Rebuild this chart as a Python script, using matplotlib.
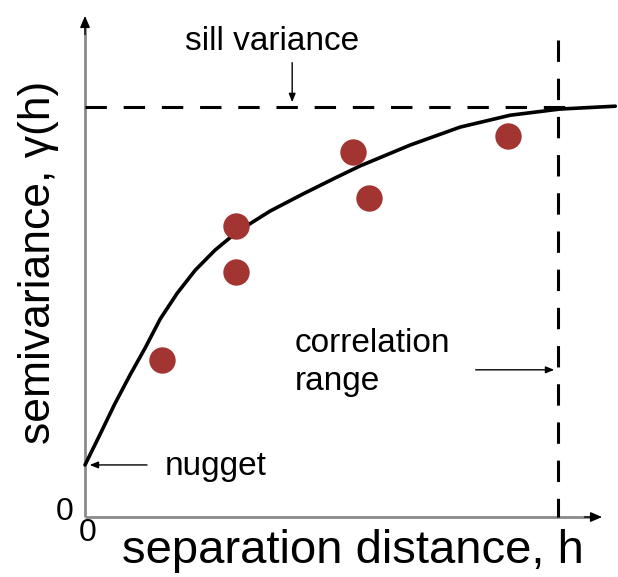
import matplotlib
matplotlib.use('Agg')
import matplotlib.pyplot as plt

plt.rcParams['font.family'] = ['Liberation Sans', 'DejaVu Sans']

# observed semivariance points (separation distance, semivariance)
obs_h = [1.63, 3.19, 3.19, 5.67, 6.00, 8.94]
obs_g = [3.83, 7.10, 5.98, 8.90, 7.78, 9.29]

# fitted model curve
model_h = [0.00, 0.32, 0.63, 0.95, 1.27, 1.59, 1.95, 2.33, 2.75, 3.21,
           3.91, 4.61, 5.29, 5.81, 6.87, 7.93, 8.99, 10.04, 11.21]
model_g = [1.27, 2.02, 2.76, 3.46, 4.12, 4.83, 5.46, 6.02, 6.51, 6.95,
           7.46, 7.88, 8.27, 8.56, 9.07, 9.51, 9.80, 9.95, 10.02]

nugget = 1.27
sill = 10.0
corr_range = 10.0

fig = plt.figure(figsize=(6.18, 5.77), dpi=100)
ax = fig.add_axes([0, 0, 1, 1])
ax.set_xlim(-1.797, 11.268)
ax.set_ylim(-1.463, 12.61)
ax.axis('off')

# axes with arrow heads
ax.plot([0, 0], [0, 12.0], color='#8a8a8a', lw=2, solid_capstyle='butt')
ax.plot([0, 10.7], [0, 0], color='#8a8a8a', lw=2, solid_capstyle='butt')
ax.annotate('', xy=(0, 12.29), xytext=(0, 11.7),
            arrowprops=dict(arrowstyle='-|>,head_length=0.7,head_width=0.3', color='black', lw=1))
ax.annotate('', xy=(10.99, 0), xytext=(10.5, 0),
            arrowprops=dict(arrowstyle='-|>,head_length=0.7,head_width=0.3', color='black', lw=1))

# sill and range lines
ax.plot([0, 10.68], [sill, sill], color='black', lw=2.2, dashes=[7, 5.5])
ax.plot([corr_range, corr_range], [11.63, 0], color='black', lw=2.2, dashes=[7, 5.5])

# model curve and observations
ax.plot(model_h, model_g, color='black', lw=2.6, solid_capstyle='round', solid_joinstyle='round')
ax.plot(obs_h, obs_g, 'o', color='#a23431', markersize=19, markeredgewidth=0)

# annotations
ax.text(3.95, 11.39, 'sill variance', fontsize=24, ha='center', va='baseline')
ax.annotate('', xy=(4.38, sill + 0.05), xytext=(4.38, 11.15),
            arrowprops=dict(arrowstyle='-|>,head_length=0.5,head_width=0.2', color='black', lw=1))
ax.text(1.69, 1.02, 'nugget', fontsize=24, ha='left', va='baseline')
ax.annotate('', xy=(0.04, nugget), xytext=(1.37, nugget),
            arrowprops=dict(arrowstyle='-|>,head_length=0.5,head_width=0.2', color='black', lw=1))
ax.text(4.44, 4.02, 'correlation', fontsize=24, ha='left', va='baseline')
ax.text(4.44, 3.10, 'range', fontsize=24, ha='left', va='baseline')
ax.annotate('', xy=(corr_range - 0.02, 3.59), xytext=(8.20, 3.59),
            arrowprops=dict(arrowstyle='-|>,head_length=0.5,head_width=0.2', color='black', lw=1))

ax.text(-0.44, 0.12, '0', fontsize=23, ha='center', va='center')
ax.text(0.06, -0.39, '0', fontsize=23, ha='center', va='center')
ax.text(0.78, -1.12, 'separation distance, h', fontsize=34, ha='left', va='baseline')
ax.text(-0.99, 6.22, 'semivariance, γ(h)', fontsize=32, ha='center', va='center', rotation=90)

fig.savefig('out.png', dpi=100)
